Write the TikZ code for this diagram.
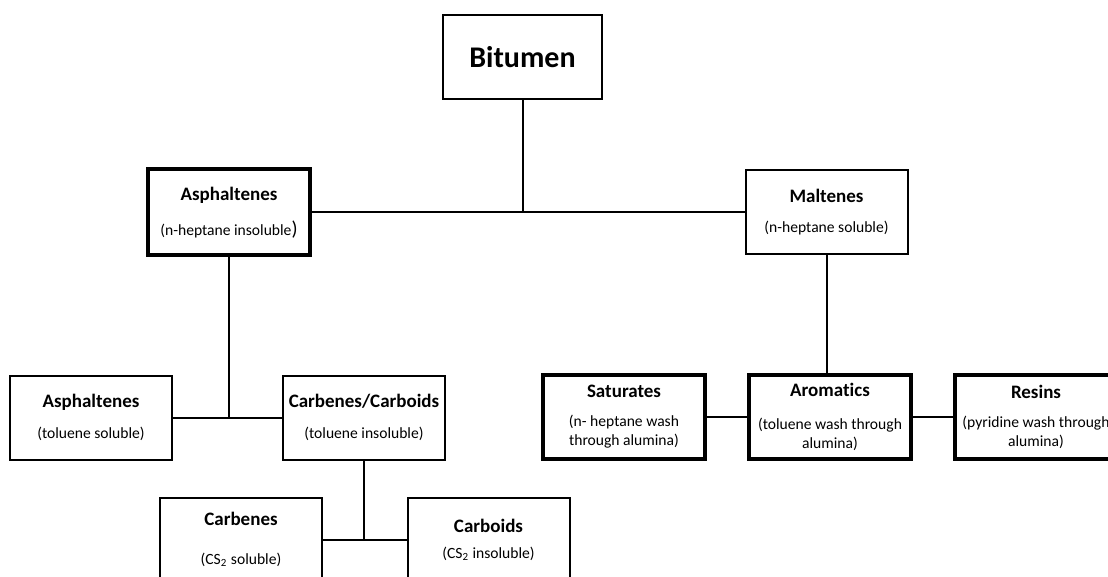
\documentclass[tikz,border=0pt]{standalone}
\usepackage{fontspec}
\setmainfont{Carlito}[Ligatures=NoCommon]
\newcommand{\titlesize}{\fontsize{9.5}{11}\selectfont\bfseries}
\begin{document}
\begin{tikzpicture}[x=0.5pt,y=-0.5pt,
  box/.style={draw,line width=1pt,minimum width=81pt,minimum height=42pt,inner sep=0pt,align=center,font=\fontsize{7.8}{9.5}\selectfont},
  heavybox/.style={box,line width=2pt},
  link/.style={line width=1pt}]
\useasboundingbox (0,0) rectangle (1108,577);
\clip (0,0) rectangle (1108,577);
\node[box,minimum width=79.5pt] (bit) at (522.5,57) {\fontsize{15}{18}\selectfont\bfseries Bitumen};
\node[heavybox,minimum height=43pt] (asph) at (229,212.5) {{\titlesize Asphaltenes}\\[8pt](n-heptane insoluble{\fontsize{10}{10}\selectfont)}};
\node[box] (malt) at (826.5,212.5) {{\titlesize Maltenes}\\[5.5pt](n-heptane soluble)};
\node[box] (asphs) at (91,417.5) {{\titlesize Asphaltenes}\\[6pt](toluene soluble)};
\node[box] (carb) at (364,417.5) {{\titlesize Carbenes/Carboids}\\[6pt](toluene insoluble)};
\node[heavybox] (sat) at (624,416.5) {{\titlesize Saturates}\\[5pt](n- heptane wash\\through alumina)};
\node[heavybox] (arom) at (830,416.5) {{\titlesize Aromatics}\\[7pt](toluene wash through\\alumina)};
\node[heavybox] (res) at (1036,416.5) {{\titlesize Resins}\\[5pt](pyridine wash through\\alumina)};
\node[box] (carbenes) at (241,539.5) {{\titlesize Carbenes}\\[10pt](CS\textsubscript{2} soluble)};
\node[box] (carboids) at (488.5,539.5) {{\titlesize Carboids}\\[3.5pt](CS\textsubscript{2} insoluble)};
\draw[link] (bit.south) -- (bit.south |- asph.east);
\draw[link] (asph.east) -- (malt.west);
\draw[link] (asph.south) -- (asph.south |- asphs.east);
\draw[link] (asphs.east) -- (carb.west);
\draw[link] (malt.south) -- (malt.south |- arom.north);
\draw[link] (sat.east) -- (arom.west);
\draw[link] (arom.east) -- (res.west);
\draw[link] (carb.south) -- (carb.south |- carbenes.east);
\draw[link] (carbenes.east) -- (carboids.west);
\end{tikzpicture}
\end{document}
